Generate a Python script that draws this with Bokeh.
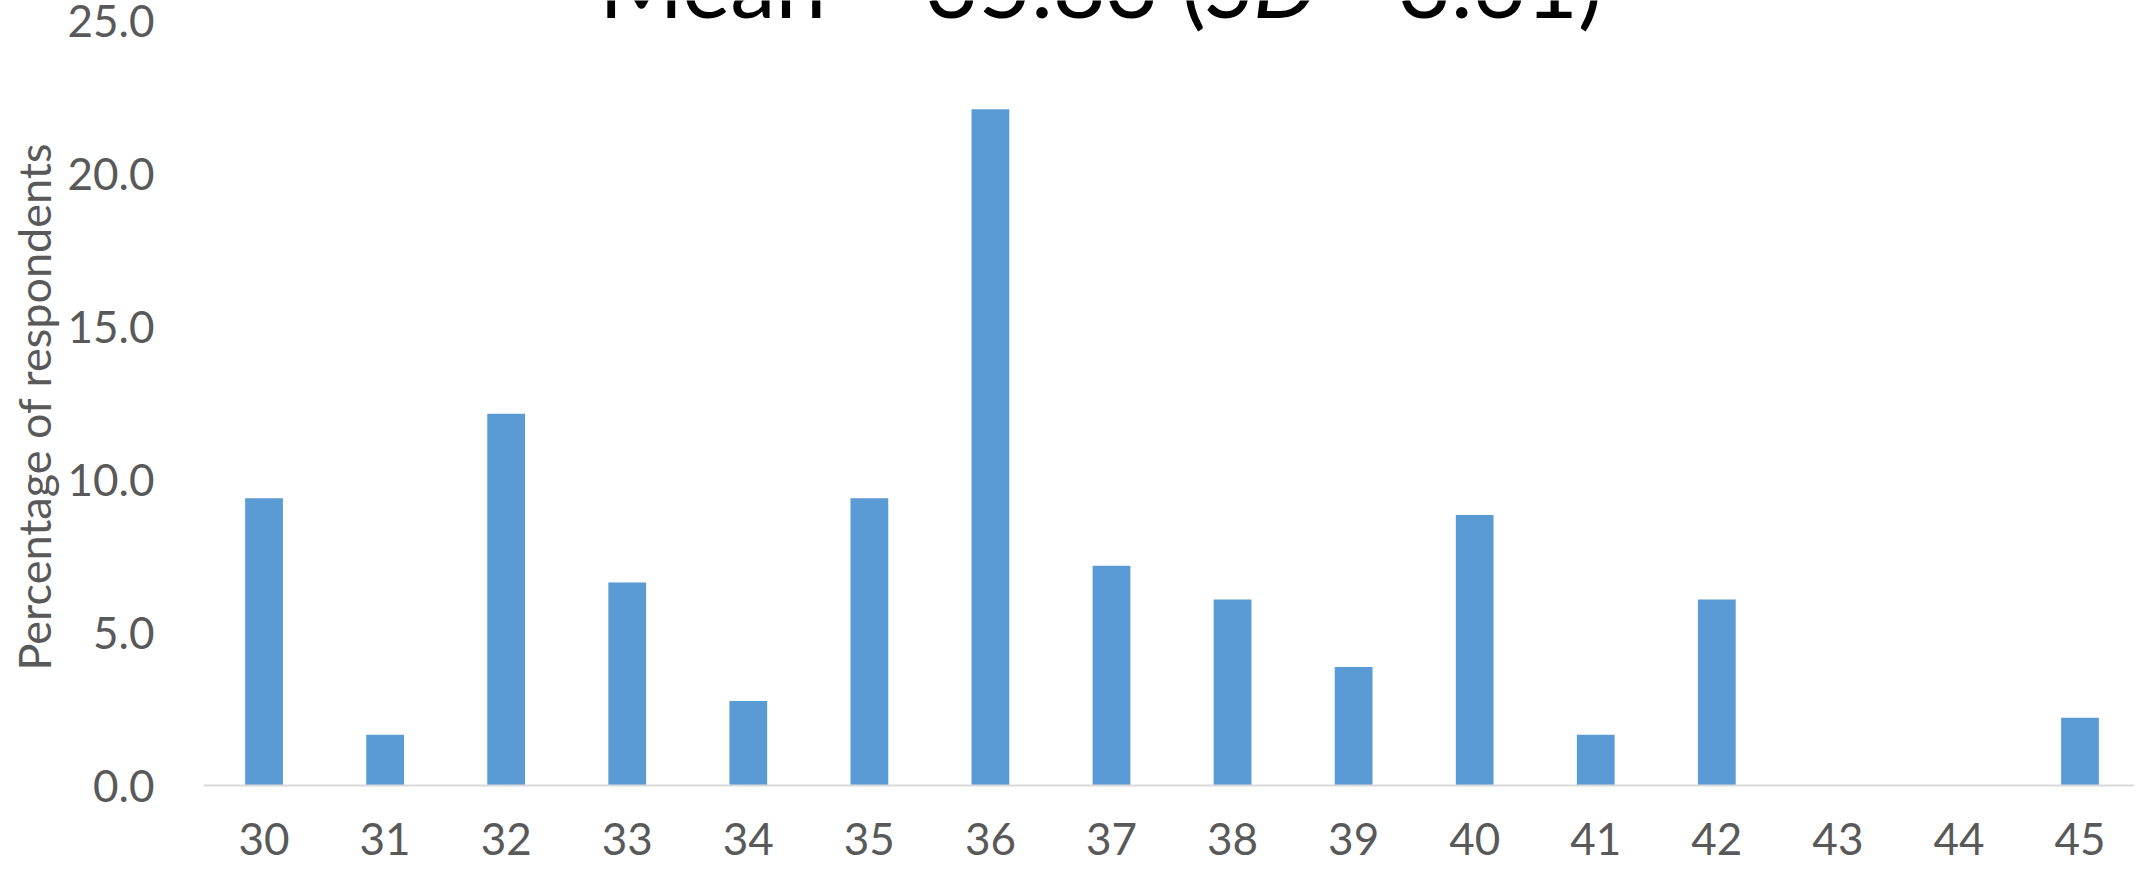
from bokeh.plotting import figure
from bokeh.models import (Range1d, FixedTicker, PrintfTickFormatter, Label, Span,
                          Title, ColumnDataSource)
from bokeh.core.properties import value
from bokeh.embed import file_html
from bokeh.resources import INLINE

# ---- data ----
ages = [30, 31, 32, 33, 34, 35, 36, 37, 38, 39, 40, 41, 42, 43, 44, 45]
percent = [9.39, 1.66, 12.15, 6.63, 2.76, 9.39, 22.10, 7.18, 6.08, 3.87, 8.84, 1.66, 6.08, 0.0, 0.0, 2.21]
age_labels = [str(a) for a in ages]
y_ticks = [0, 5, 10, 15, 20, 25]
title_parts = ["Mean = 35.83 (", "SD", " = 3.61)"]
y_label = "Percentage of respondents"

FONT = "Lato"
GREY = "#595959"
MID = 0.387  # Lato: centre of the text box above the baseline, in em

W, H = 2134, 858
LEFT = 192

# page-pixel anchors of the value axis (y = 0 and y = 25)
PX_ZERO, PX_TOP_TICK = 793, 28
FIG_TOP, FIG_BOTTOM = 8, 8 + H
ppu = (PX_ZERO - PX_TOP_TICK) / (y_ticks[-1] - y_ticks[0])
def py_to_y(py):
    return (PX_ZERO - py) / ppu

x_lo, x_hi = 29.5, 45.45
frame_left_px = 8 + LEFT
frame_right_px = 8 + W
sx = (frame_right_px - frame_left_px) / (x_hi - x_lo)
def px_to_x(px):
    return x_lo + (px - frame_left_px) / sx

p = figure(width=W, height=H, output_backend="svg", toolbar_location=None,
           x_range=Range1d(x_lo, x_hi),
           y_range=Range1d(py_to_y(FIG_BOTTOM), py_to_y(FIG_TOP)),
           x_axis_location=None,
           min_border_left=LEFT, min_border_right=0, min_border_top=0,
           min_border_bottom=0, outline_line_color=None,
           background_fill_color="white", border_fill_color="white")

src = ColumnDataSource(dict(x=ages, top=percent, label=age_labels))
p.vbar(x="x", top="top", width=0.312, source=src, fill_color="#5B9BD5", line_color=None)

for g in p.grid:
    g.visible = False

# category axis line and labels (baseline of the labels just above the page edge)
XL_SIZE = 44
p.add_layout(Span(location=0, dimension="width", line_color="#D9D9D9", line_width=2))
p.text(x="x", y=py_to_y(864 - MID * XL_SIZE), text="label", source=src,
       text_align="center", text_baseline="middle",
       text_font=value(FONT), text_font_size=f"{XL_SIZE}px", text_color=GREY)

ya = p.yaxis[0]
ya.ticker = FixedTicker(ticks=y_ticks)
ya.formatter = PrintfTickFormatter(format="%.1f")
ya.axis_line_color = None
ya.major_tick_line_color = None
ya.minor_tick_line_color = None
ya.major_tick_out = 0
ya.major_tick_in = 0
ya.major_label_standoff = 49
ya.major_label_text_font = FONT
ya.major_label_text_font_size = "44px"
ya.major_label_text_color = GREY

# value axis title along the left edge
p.add_layout(Title(text=y_label, align="left", offset=FIG_BOTTOM - 678, standoff=8,
                   text_font=FONT, text_font_size="45px", text_font_style="normal",
                   text_color=GREY), "left")

# chart title (mostly cut off at the top edge, as in the reference)
T_SIZE = 91
tkw = dict(y=py_to_y(25 - MID * T_SIZE), text_font=FONT, text_font_size=f"{T_SIZE}px",
           text_color="black", text_baseline="middle")
p.add_layout(Label(x=px_to_x(1208), text=title_parts[0], text_align="right", **tkw))
p.add_layout(Label(x=px_to_x(1209), text=title_parts[1], text_align="left",
                   text_font_style="italic", **tkw))
p.add_layout(Label(x=px_to_x(1325), text=title_parts[2], text_align="left", **tkw))

open("out.html", "w").write(file_html(p, INLINE))
